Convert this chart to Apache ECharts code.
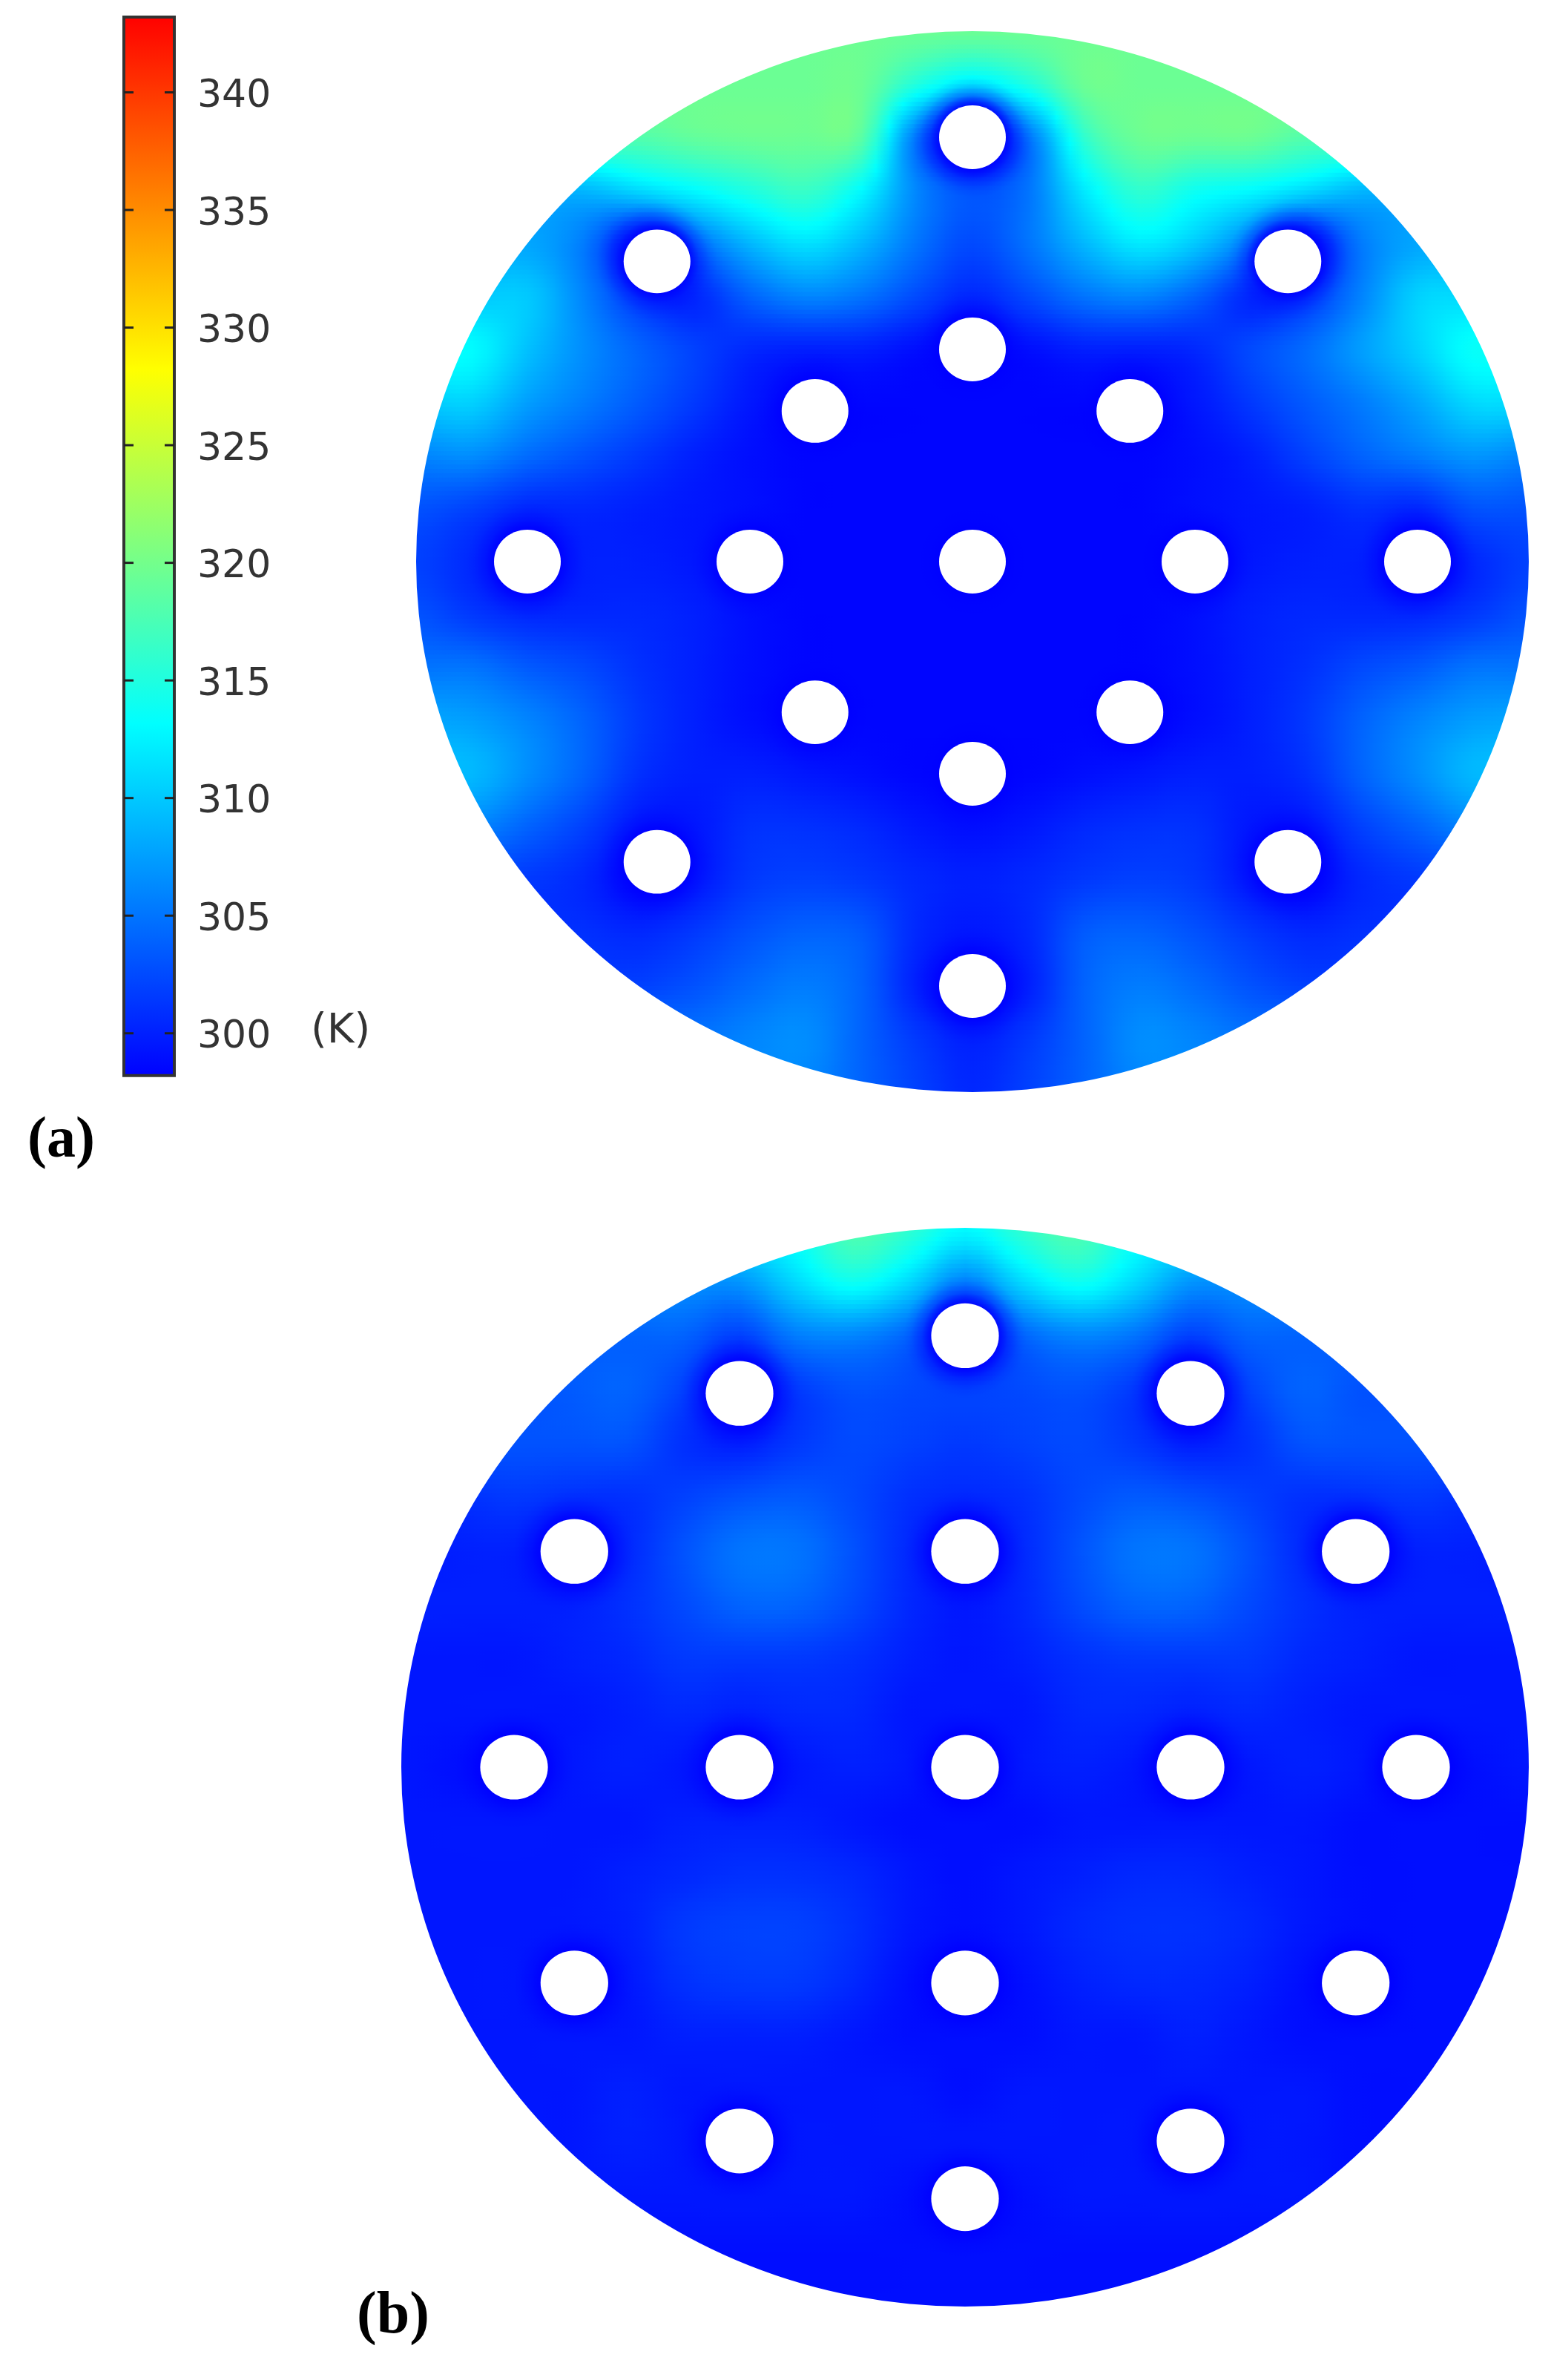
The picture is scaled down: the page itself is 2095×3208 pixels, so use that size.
<!DOCTYPE html>
<html><head><meta charset="utf-8">
<style>html,body{margin:0;padding:0;background:#fff}#c{width:2095px;height:3208px}</style>
<script src="https://cdn.jsdelivr.net/npm/echarts@6/dist/echarts.min.js"></script>
</head><body><div id="c"></div>
<script>
// Temperature (K) at nodes every 10 % of the plate radius.
// Columns: x = -100 ... 100; rows: y = 100 ... -100.
const nodeStep = 10;
const fieldA = [
[319.5,319.5,319.5,319.5,319.5,319.5,319.5,319.5,319.5,319.5,319.5,319.5,319.5,319.5,319.5,319.5,319.5,319.5,319.5,319.5,319.5],
[319.5,319.5,319.5,319.5,319.5,319.5,319.5,319.5,319.5,315,312,315,319.5,319.5,319.5,319.5,319.5,319.5,319.5,319.5,319.5],
[318,318,318,318,318,319,319.5,319.5,318.5,305,298.5,305,316,319.5,319.5,319.5,318,318,318,318,318],
[309,309,309,309,311,313,315,316.5,313,306,303,305,312,316,314,313,311,309,309,309,309],
[308,308,308,305.5,299.5,304.5,309,311.5,309,305,302.5,305,309,312,310,305.5,299.5,305.5,308,308,308],
[310,310,310,306,301.5,300.5,304,306,305,302.5,300.5,302.5,305,306,304,300.5,301.5,306,310.5,311,311],
[313,313,309.5,306.5,304,302,300.5,300,300,299,298.5,299,300,300,300.5,302.5,304.5,307.5,310.5,313.5,313],
[310,310.5,307.5,305.5,303.5,301.5,299.5,298.5,298.5,298.5,298.5,298.5,298.5,298.5,299.5,301.5,303.5,305.5,308,311,311],
[306,306.5,304.5,303,301.5,300,299,298.5,298.5,298.5,298.5,298.5,298.5,298.5,299,300,302,304,305.5,307,306],
[303,302,300.5,300.5,300,299.5,299,298.5,298.5,298.5,298.5,298.5,298.5,298.5,299,299.5,300,301,300.5,303,303],
[302,300.5,298.5,300,300,299.5,298.5,298.5,298.5,298.5,298.5,298.5,298.5,298.5,298.5,299.5,300,300,298.5,300.5,302],
[303,301.5,300.5,300.5,300.5,300,299,298.5,298.5,298.5,298.5,298.5,298.5,298.5,299,300,300.5,300.5,300.5,301.5,303],
[305,305,303.5,302.5,301,300,299,298.5,298.5,298.5,298.5,298.5,298.5,298.5,299,300,301,302.5,303.5,305,305],
[308,307.5,306,304,301.5,300,299,298.5,298.5,298.5,298.5,298.5,298.5,298.5,299,300,301.5,304,306,307.5,308],
[309,309,306.5,304,301,300,300,299.5,299,298.5,298.5,298.5,299,299.5,300,300,301,304,306.5,309,309],
[306,306,304,302,299.5,299.5,301,301,300.5,299.5,299,299.5,300.5,301,301,299.5,299.5,302,304,306,306],
[302,302,301.5,300.5,298.5,299.5,301.5,302,301.5,300.5,300,300.5,301.5,302,301.5,299.5,298.5,300.5,301.5,302,302],
[301,301,301,301,300.5,301.5,303,304,303.5,300.5,299.5,300.5,303.5,304,303,301.5,300.5,301,301,301,301],
[302,302,302,302,302,303,304.5,305.5,304,300,298.5,300,304,305.5,304.5,303,302,302,302,302,302],
[305,305,305,305,305,305,306,306.5,304,301.5,300,301.5,304,306.5,306,305,305,305,305,305,305],
[306,306,306,306,306,306,306,306,304,302,300.5,302,304,306,306,306,306,306,306,306,306]
];
const fieldB = [
[312,312,312,312,312,312,312,314,318,316,313,316,318,314,312,312,312,312,312,312,312],
[307,307,307,307,307,307,307,311,314,311,306,311,314,311,307,307,307,307,307,307,307],
[304,304,304,304,304,304,302,305.5,306,304,299,304,306,305,302,304,304,304,304,304,304],
[303,303,303,303.5,304,302,298.5,301.5,303,302.5,302,302.5,303,301.5,298.5,302,304,303,303,303,303],
[303,303,303,303,303,301,300,301.5,302.5,302,301.5,302,302.5,301.5,300,301,303,303,303,303,303],
[301,301,301.5,301,301,302,303,303.5,302.5,301,300.5,301,302.5,303.5,303,302,301,301,301.5,301,301],
[299.5,300,300,298.5,300.5,303,305,305,303,300.5,298.5,300.5,303,305,305,303,300.5,298.5,300,300,299.5],
[300,300,300,300,301,302.5,304,304,302.5,300.5,299.5,300.5,302.5,304,304,302.5,301,300,300,300,300],
[299.5,299.5,299.5,300,300.5,301.5,301.5,301.5,301,300,299.5,300,301,301.5,301.5,301.5,300.5,300,299.5,299.5,299.5],
[299.5,299.5,299.5,299.5,300,300.5,300,300.5,300.5,299.5,299.5,299.5,300.5,300.5,300,300.5,300,299.5,299.5,299.5,299.5],
[299.5,299,298.5,299.5,300,299.5,298.5,299.5,300,299.5,298.5,299.5,300,299.5,298.5,299.5,300,299.5,298.5,299,299.5],
[299.5,299.5,299.5,299.5,299.5,300,300,300,299.5,299,299,299,299.5,299.5,299.5,299.5,299.5,299,299,299,299],
[299.5,299.5,299.5,299.5,300,300.5,301,301,300.5,299.5,299,299.5,300,300.5,300.5,300,299.5,299,299,299,299],
[299.5,299.5,299.5,299.5,300,301.5,302,302,301,299.5,299,299.5,300.5,301,301,300.5,299.5,299,299,299,299],
[299.5,299.5,299.5,298.5,299.5,301,301.5,301.5,300.5,299,298.5,299,300,300.5,300.5,300,299,298.5,299,299,299],
[299.5,299.5,299.5,299.5,299.5,300,300,300,299.5,299,299,299,299.5,299.5,300,299.5,299,299,299,299,299],
[299.5,299.5,299.5,299.5,300,299.5,299.5,299.5,299.5,299.5,299,299.5,299.5,299.5,299.5,299.5,299.5,299,299,299,299],
[299.5,299.5,299.5,299.5,300,299.5,298.5,299.5,299.5,299.5,299.5,299.5,299.5,299.5,298.5,299.5,299.5,299,299,299,299],
[299.5,299.5,299.5,299.5,299.5,299.5,299.5,299.5,299.5,299,298.5,299,299.5,299.5,299.5,299.5,299.5,299,299,299,299],
[299,299,299,299,299,299,299,299,299,299,299,299,299,299,299,299,299,299,299,299,299],
[299,299,299,299,299,299,299,299,299,299,299,299,299,299,299,299,299,299,299,299,299]
];
// Cooling holes: centre positions in % of plate radius.
const holesAX = [0,-56.7,56.7,0,-28.3,28.3,-80,-40,0,40,80,-28.3,28.3,0,-56.7,56.7,0];
const holesAY = [80,56.6,56.6,40,28.4,28.4,0,0,0,0,0,-28.4,-28.4,-40,-56.6,-56.6,-80];
const holesBX = [0,-40,40,-69.3,0,69.3,-80,-40,0,40,80,-69.3,0,69.3,-40,40,0];
const holesBY = [80,69.3,69.3,40,40,40,0,0,0,0,0,-40,-40,-40,-69.3,-69.3,-80];
const holeRadius = 6;
const plateRadius = 100;
// Colour scale
const scaleTemps = [298.2,313.2,328.2,343.2];
const scaleColors = [[0,0,255],[0,255,255],[255,255,0],[255,0,0]];
const tickValues = [300,305,310,315,320,325,330,335,340];

function colorOf(t){
  const n=scaleTemps.length;
  if(t<=scaleTemps[0]) t=scaleTemps[0];
  if(t>=scaleTemps[n-1]) t=scaleTemps[n-1];
  let i=0; while(i<n-2 && t>scaleTemps[i+1]) i++;
  const f=(t-scaleTemps[i])/(scaleTemps[i+1]-scaleTemps[i]);
  const a=scaleColors[i],b=scaleColors[i+1];
  return 'rgb('+[0,1,2].map(k=>Math.round(a[k]+(b[k]-a[k])*f)).join(',')+')';
}
function cr(a,b,c,d,t){return b+.5*t*((c-a)+t*((2*a-5*b+4*c-d)+t*(3*(b-c)+d-a)));}
function shade(field,xv,yv){
  const N=field.length-1;
  const cf=(xv+100)/nodeStep, rf=(100-yv)/nodeStep;
  const c0=Math.min(N-1,Math.max(0,Math.floor(cf))), r0=Math.min(N-1,Math.max(0,Math.floor(rf)));
  const ct=cf-c0, rt=rf-r0;
  const at=(r,c)=>field[Math.min(N,Math.max(0,r))][Math.min(N,Math.max(0,c))];
  const rows=[-1,0,1,2].map(dr=>cr(at(r0+dr,c0-1),at(r0+dr,c0),at(r0+dr,c0+1),at(r0+dr,c0+2),ct));
  return cr(rows[0],rows[1],rows[2],rows[3],rt);
}
function nodes(field){
  const out=[];
  field.forEach((row,r)=>row.forEach((v,c)=>out.push([c*nodeStep-100,100-r*nodeStep,v])));
  return out;
}
function fieldSeries(field,idx){
  return {type:'custom',xAxisIndex:idx,yAxisIndex:idx,z:2,silent:true,clip:false,animation:false,progressive:0,
    data:nodes(field),encode:{x:0,y:1},
    renderItem(p,api){
      const x=api.value(0),y=api.value(1);
      if(Math.hypot(x,y)>plateRadius+nodeStep*1.0) return null;
      const h=nodeStep/2,K=12,M=5,kids=[];
      for(let k=0;k<K;k++){
        const y0=y+h-2*h*k/K,y1=y+h-2*h*(k+1)/K,ym=(y0+y1)/2;
        const a=api.coord([x-h,y0]),b=api.coord([x+h,y1]);
        const stops=[];
        for(let m=0;m<M;m++){
          const f=m/(M-1);
          stops.push({offset:f,color:colorOf(shade(field,x-h+2*h*f,ym))});
        }
        kids.push({type:'rect',shape:{x:a[0],y:a[1],width:b[0]-a[0]+1,height:b[1]-a[1]+1},
          style:{fill:{type:'linear',x:0,y:0,x2:1,y2:0,colorStops:stops}}});
      }
      return {type:'group',children:kids};
    }};
}
function holeSeries(xs,ys,idx){
  return {type:'custom',xAxisIndex:idx,yAxisIndex:idx,z:3,silent:true,clip:false,animation:false,
    data:xs.map((x,i)=>[x,ys[i]]),encode:{x:0,y:1},
    renderItem(p,api){
      const c=api.coord([api.value(0),api.value(1)]);
      const s=api.size([holeRadius,holeRadius]);
      const halo=1.9;
      return {type:'group',children:[
        {type:'ellipse',shape:{cx:c[0],cy:c[1],rx:s[0]*halo,ry:s[1]*halo},
         style:{fill:{type:'radial',x:.5,y:.5,r:.5,colorStops:[
           {offset:0,color:'rgba(0,0,255,1)'},
           {offset:1/halo,color:'rgba(0,0,255,.9)'},
           {offset:.7,color:'rgba(0,0,255,.32)'},
           {offset:.87,color:'rgba(0,0,255,.08)'},
           {offset:1,color:'rgba(0,0,255,0)'}]}}},
        {type:'ellipse',shape:{cx:c[0],cy:c[1],rx:s[0],ry:s[1]},style:{fill:'#fff'}}
      ]};
    }};
}
function maskSeries(idx){
  return {type:'custom',xAxisIndex:idx,yAxisIndex:idx,z:4,silent:true,clip:false,animation:false,
    data:[[0,0]],encode:{x:0,y:1},
    renderItem(p,api){
      const c=api.coord([0,0]);
      const s=api.size([plateRadius,plateRadius]);
      return {type:'ring',x:c[0],y:c[1],scaleX:1,scaleY:s[1]/s[0],
        shape:{cx:0,cy:0,r0:s[0],r:s[0]*1.16},style:{fill:'#fff'}};
    }};
}
const barSeries={type:'custom',xAxisIndex:2,yAxisIndex:2,z:5,silent:true,clip:false,animation:false,
  data:[[0,scaleTemps[0],scaleTemps[scaleTemps.length-1]]],encode:{x:0,y:[1,2]},
  renderItem(p,api){
    const a=api.coord([0,api.value(2)]),b=api.coord([1,api.value(1)]);
    const span=scaleTemps[scaleTemps.length-1]-scaleTemps[0];
    const stops=scaleTemps.map(t=>({offset:1-(t-scaleTemps[0])/span,color:colorOf(t)})).reverse();
    return {type:'rect',shape:{x:a[0],y:a[1],width:b[0]-a[0],height:b[1]-a[1]},
      style:{fill:{type:'linear',x:0,y:0,x2:0,y2:1,colorStops:stops},stroke:'#333',lineWidth:4}};
  }};
const tickSeries={type:'custom',xAxisIndex:2,yAxisIndex:2,z:6,silent:true,clip:false,animation:false,
  data:tickValues.map(v=>[0,v]),encode:{y:1},
  renderItem(p,api){
    const l=api.coord([0,api.value(1)]),r=api.coord([1,api.value(1)]),len=13;
    const st={stroke:'#222',lineWidth:3};
    return {type:'group',children:[
      {type:'line',shape:{x1:l[0],y1:l[1],x2:l[0]+len,y2:l[1]},style:st},
      {type:'line',shape:{x1:r[0]-len,y1:r[1],x2:r[0],y2:r[1]},style:st}
    ]};
  }};
const hiddenValue={type:'value',min:-100,max:100,show:false};
const option={
  backgroundColor:'#fff',animation:false,
  grid:[
    {left:561,top:42,width:1500,height:1430},
    {left:541,top:1655,width:1520,height:1454},
    {left:167,top:23,width:68,height:1430}
  ],
  xAxis:[
    {...hiddenValue,gridIndex:0},{...hiddenValue,gridIndex:1},
    {type:'value',min:0,max:1,show:false,gridIndex:2}
  ],
  yAxis:[
    {...hiddenValue,gridIndex:0},{...hiddenValue,gridIndex:1},
    {type:'value',gridIndex:2,position:'right',min:298.1,max:343.2,z:10,
      splitLine:{show:false},
      axisLine:{show:false},
      axisTick:{show:false},
      axisLabel:{show:true,margin:31,customValues:tickValues,color:'#333',fontFamily:'DejaVu Sans',fontSize:52,verticalAlign:'top',lineHeight:12}}
  ],
  graphic:[
    {type:'text',z:100,left:419,top:1362,style:{text:'(K)',font:'56px "DejaVu Sans"',fill:'#333'}},
    {type:'text',z:100,left:37,top:1500,style:{text:'(a)',font:'bold 78px "Liberation Serif"',fill:'#000'}},
    {type:'text',z:100,left:481,top:3083,style:{text:'(b)',font:'bold 80px "Liberation Serif"',fill:'#000'}}
  ],
  series:[
    fieldSeries(fieldA,0),holeSeries(holesAX,holesAY,0),maskSeries(0),
    fieldSeries(fieldB,1),holeSeries(holesBX,holesBY,1),maskSeries(1),
    barSeries,tickSeries
  ]
};
echarts.init(document.getElementById('c')).setOption(option);
</script></body></html>
